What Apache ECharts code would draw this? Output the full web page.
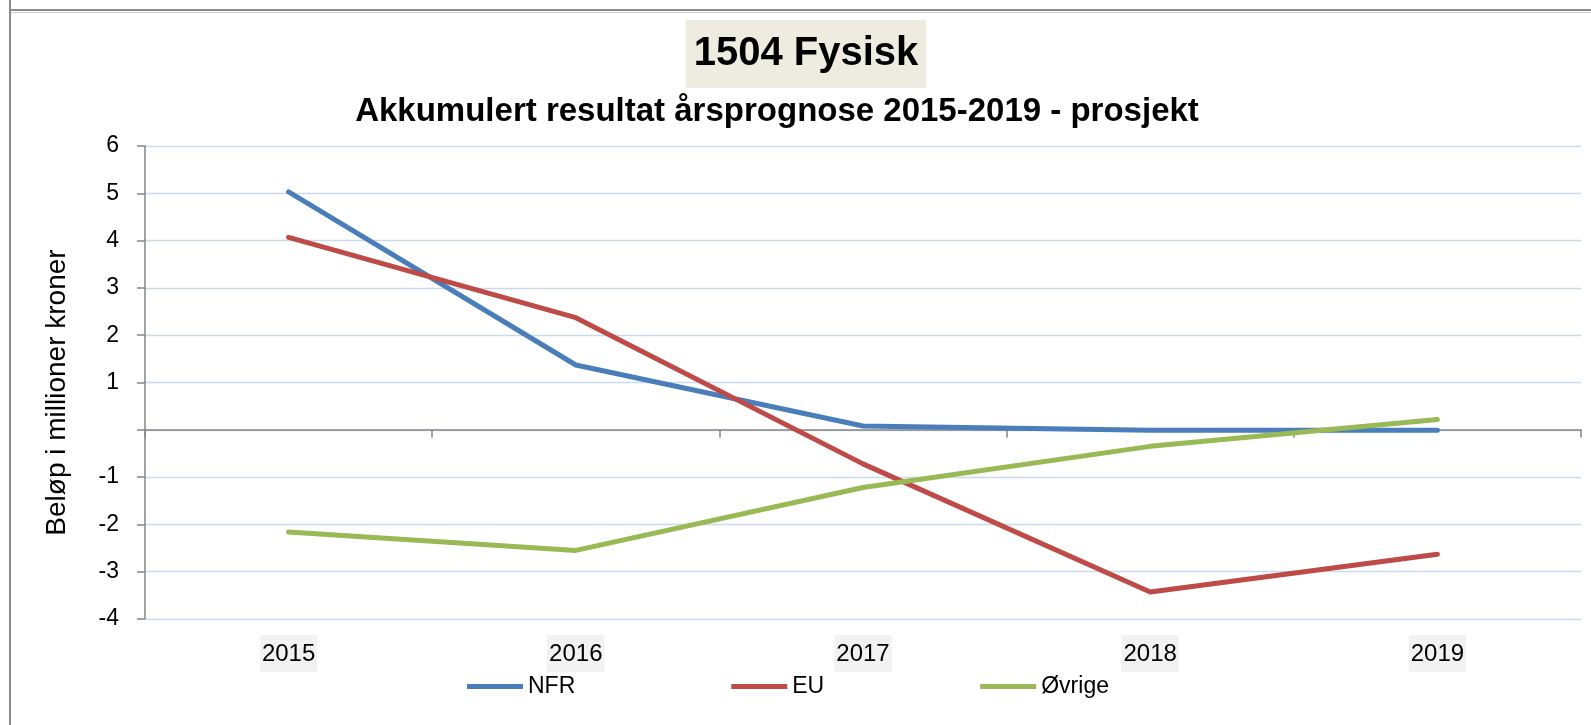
<!DOCTYPE html>
<html>
<head>
<meta charset="utf-8">
<title>1504 Fysisk</title>
<script src="https://cdn.jsdelivr.net/npm/echarts@6/dist/echarts.min.js"></script>
<style>
  html, body { margin: 0; padding: 0; background: #fff; }
  #chart { width: 1591px; height: 725px; }
</style>
</head>
<body>
<div id="chart"></div>
<script>
// data
const years = ['2015', '2016', '2017', '2018', '2019'];
const nfr = [5.03, 1.37, 0.08, -0.01, -0.01];
const eu = [4.07, 2.37, -0.72, -3.43, -2.63];
const ovrige = [-2.16, -2.55, -1.22, -0.35, 0.22];

const FONT = '"Liberation Sans", Arial, sans-serif';
const AXIS_GREY = '#868686';

const chart = echarts.init(document.getElementById('chart'));

const option = {
  animation: false,
  textStyle: { fontFamily: FONT, color: '#000' },

  title: [
    {
      text: '1504 Fysisk',
      left: 798,
      top: 20,
      textAlign: 'center',
      backgroundColor: '#EEECE1',
      padding: [10, 8],
      textStyle: { fontSize: 40, fontWeight: 'bold', color: '#000', lineHeight: 48, fontFamily: FONT },
    },
    {
      text: 'Akkumulert resultat årsprognose 2015-2019 - prosjekt',
      left: 777,
      top: 93,
      textAlign: 'center',
      padding: 0,
      textStyle: { fontSize: 33, fontWeight: 'bold', color: '#000', lineHeight: 38, fontFamily: FONT },
    },
  ],

  legend: {
    data: ['NFR', 'EU', 'Øvrige'],
    left: 467,
    top: 675,
    padding: 0,
    icon: 'rect',
    itemWidth: 56,
    itemHeight: 5,
    itemGap: 156,
    textStyle: { fontSize: 23, color: '#000', fontFamily: FONT },
  },

  grid: { left: 145, right: 10, top: 146, bottom: 106 },

  xAxis: [
    {
      // line through zero with the ticks between categories
      type: 'category',
      data: years,
      boundaryGap: true,
      axisLine: { onZero: true, lineStyle: { color: AXIS_GREY, width: 1.5 } },
      axisTick: { show: true, length: 8, lineStyle: { color: AXIS_GREY, width: 1.5 } },
      axisLabel: { show: false },
      splitLine: { show: false },
    },
    {
      // labels at the bottom of the plot
      type: 'category',
      data: years,
      position: 'bottom',
      boundaryGap: true,
      axisLine: { show: false, onZero: false },
      axisTick: { show: false },
      splitLine: { show: false },
      axisLabel: {
        margin: 16,
        fontSize: 24,
        color: '#000',
        backgroundColor: '#F2F2F2',
        padding: [7, 2, 6, 2],
        fontFamily: FONT,
      },
    },
  ],

  yAxis: {
    type: 'value',
    min: -4,
    max: 6,
    interval: 1,
    name: 'Beløp i millioner kroner',
    nameLocation: 'middle',
    nameGap: 74,
    nameTextStyle: { fontSize: 28, color: '#000', padding: [0, 20, 0, 0], fontFamily: FONT },
    axisLine: { show: true, lineStyle: { color: AXIS_GREY, width: 1.5 } },
    axisTick: { show: true, length: 8, lineStyle: { color: AXIS_GREY, width: 1.5 } },
    axisLabel: {
      margin: 26,
      fontSize: 23,
      color: '#000',
      fontFamily: FONT,
      formatter: (v) => (v === 0 ? '' : String(v)),
    },
    splitLine: { lineStyle: { color: '#C9DAEF', width: 1.3 } },
  },

  graphic: [
    // chart frame (cropped on the right/bottom in the reference)
    { type: 'line', shape: { x1: 10, y1: 0, x2: 10, y2: 725 }, style: { stroke: '#8a8a8a', lineWidth: 2 } },
    { type: 'line', shape: { x1: 10, y1: 10, x2: 1591, y2: 10 }, style: { stroke: '#8a8a8a', lineWidth: 2 } },
    { type: 'line', shape: { x1: 11, y1: 12.5, x2: 1591, y2: 12.5 }, style: { stroke: '#d0d0d0', lineWidth: 1 } },
  ],

  series: [
    { name: 'NFR', data: nfr, color: '#4A7EBB' },
    { name: 'EU', data: eu, color: '#BE4B48' },
    { name: 'Øvrige', data: ovrige, color: '#98B954' },
  ].map((s) => ({
    name: s.name,
    type: 'line',
    xAxisIndex: 0,
    data: s.data,
    symbol: 'none',
    itemStyle: { color: s.color },
    lineStyle: { color: s.color, width: 5, cap: 'round', join: 'round' },
  })),
};

chart.setOption(option);
</script>
</body>
</html>
